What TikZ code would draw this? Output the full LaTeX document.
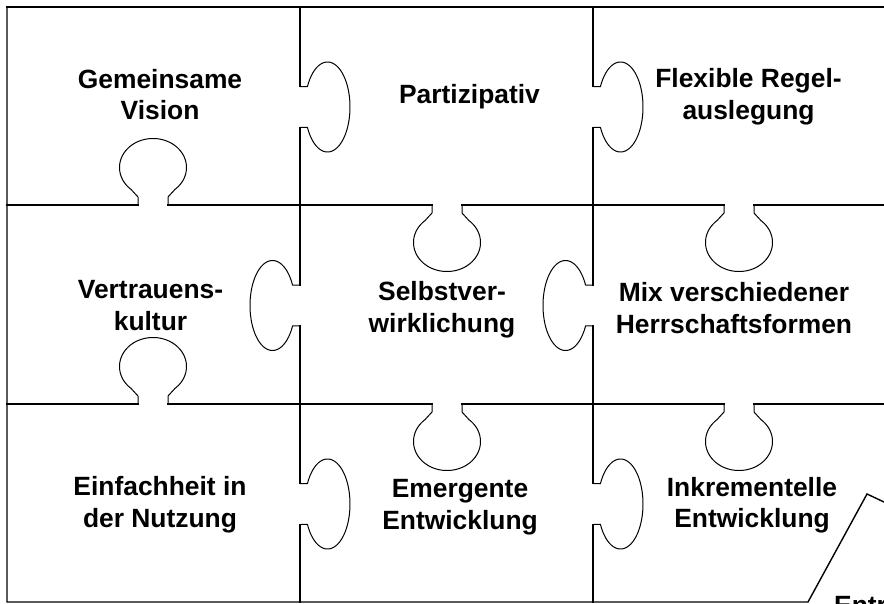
\documentclass[tikz,border=0pt]{standalone}
\usepackage{fontspec}
\setmainfont{Liberation Sans}
\tikzset{
  grid/.style={line width=1.4pt, line cap=rect},
  knob/.style={line width=1pt, line join=round},
  label/.style={font=\fontsize{26.4}{31.5}\selectfont\bfseries, align=center, inner sep=0pt, anchor=base}
}
% horizontal knob: #1 = x of boundary, #2 = y centre, #3 = +1 right / -1 left
\newcommand\hknob[3]{\draw[knob] ({#1},{#2-20.5}) -- plot[domain=207:513,samples=90] ({#1+(#3)*(27.5+22.5*cos(\x))},{#2+45*sin(\x)}) -- ({#1},{#2+20.5});}
% vertical knob: #1 = x centre, #2 = y of boundary, #3 = +1 down / -1 up
\newcommand\vknob[3]{\draw[knob] ({#1-15},{#2}) -- ({#1-15},{#2+(#3)*8}) -- plot[domain=41.05:318.95,samples=90] ({#1-33.5*sin(\x)},{#2+(#3)*(37.5-29*cos(\x))}) -- ({#1+15},{#2+(#3)*8}) -- ({#1+15},{#2});}
\begin{document}
\begin{tikzpicture}[x=1pt,y=-1pt]
\useasboundingbox (0,0) rectangle (884,603);
\clip (0,0) rectangle (884,603);
% frame and grid
\draw[grid] (7,7) -- (884,7);
\draw[grid] (7,7) -- (7,602) -- (808,602) -- (867,494) -- (884,502);
\draw[grid] (7,205) -- (138,205) (168,205) -- (432,205) (462,205) -- (724,205) (754,205) -- (884,205);
\draw[grid] (7,404) -- (138,404) (168,404) -- (432,404) (462,404) -- (724,404) (754,404) -- (884,404);
\draw[grid] (300,7) -- (300,86.5) (300,127.5) -- (300,285) (300,326) -- (300,483.5) (300,524.5) -- (300,602);
\draw[grid] (593,7) -- (593,86.5) (593,127.5) -- (593,285) (593,326) -- (593,483.5) (593,524.5) -- (593,602);
% knobs between columns
\hknob{300}{107}{1}
\hknob{300}{305.5}{-1}
\hknob{300}{504}{1}
\hknob{593}{107}{1}
\hknob{593}{305.5}{-1}
\hknob{593}{504}{1}
% knobs between rows
\vknob{153}{205}{-1}
\vknob{447}{205}{1}
\vknob{739}{205}{1}
\vknob{153}{404}{-1}
\vknob{447}{404}{1}
\vknob{739}{404}{1}
% labels (anchor base = baseline of the last line)
\node[label] (t1) at (160,119.5) {Gemeinsame\\Vision};
\node[label] (t2) at (469.5,103) {Partizipativ};
\node[label] (t3) at (748.5,119) {Flexible Regel-\\auslegung};
\node[label] (t4) at (150.5,330) {Vertrauens-\\kultur};
\node[label] (t5) at (442,332) {Selbstver-\\wirklichung};
\node[label] (t6) at (734,333) {Mix verschiedener\\Herrschaftsformen};
\node[label] (t7) at (160,527) {Einfachheit in\\der Nutzung};
\node[label] (t8) at (460,529) {Emergente\\Entwicklung};
\node[label] (t9) at (752,527.5) {Inkrementelle\\Entwicklung};
\node[label, anchor=base west] (t10) at (834,614) {Entr};
\end{tikzpicture}
\end{document}
